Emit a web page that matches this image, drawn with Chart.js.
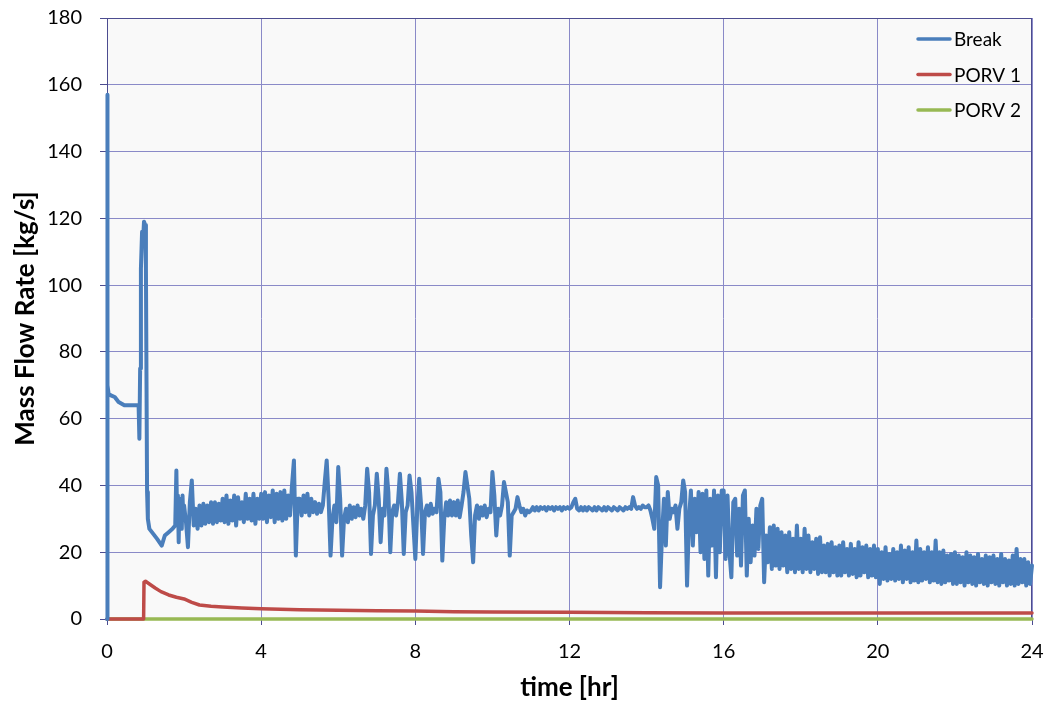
<!DOCTYPE html>
<html>
<head>
<meta charset="utf-8">
<script src="https://cdn.jsdelivr.net/npm/chart.js@4"></script>
<style>
  html, body { margin: 0; padding: 0; background: #ffffff; }
  #wrap { width: 1049px; height: 708px; }
</style>
</head>
<body>
<div id="wrap"><canvas id="flowChart" width="1049" height="708"></canvas></div>
<script>
// x ticks and y ticks
const timeTicks = [0, 4, 8, 12, 16, 20, 24];
const flowTicks = [0, 20, 40, 60, 80, 100, 120, 140, 160, 180];

// Break: start-up transient, read point by point
const breakEarlyTime = [0, 0.002, 0.006, 0.01, 0.014, 0.018, 0.024, 0.04, 0.1, 0.2, 0.3, 0.45, 0.6, 0.78, 0.82,
    0.84, 0.86, 0.88, 0.91, 0.93, 0.96, 0.99, 1.01, 1.03, 1.04, 1.06, 1.1, 1.2, 1.3, 1.42, 1.5, 1.6, 1.7, 1.77,
    1.8, 1.82, 1.84, 1.86, 1.88, 1.9, 1.92, 1.94, 1.96, 1.98];
const breakEarlyFlow = [0, 157, 140, 110, 90, 92, 70, 67.5, 67, 66.5, 65, 64, 64, 64, 64,
    54, 75, 105, 116, 112, 119, 118, 105, 60, 38, 30, 27, 25.5, 24, 22, 25, 26, 27, 28,
    44.5, 30, 37, 23, 36, 29, 35, 27, 37, 30];

// Break: from 2 hr on, one reading every 0.05 hr (one row = one hour)
const breakStart = 2.0;
const breakStep = 0.05;
const breakFlow = [
    34, 29, 21.5, 35, 41.5, 28, 33, 27, 34, 28, 34.5, 28.5, 34, 29, 35, 28.5, 35, 29, 34.5, 29.5,       // 2
    36, 29, 37, 28.5, 35.5, 29.5, 37, 28, 36.5, 30, 35, 29, 37.5, 30, 36, 29.5, 37.5, 28.5, 36, 30,     // 3
    37.5, 30, 38, 29, 37, 30.5, 38.5, 29, 37.5, 30, 38, 29.5, 38.5, 30, 37, 31, 40, 47.5, 19, 36,       // 4
    36, 31, 37, 32, 37.5, 31, 36, 32, 35, 31.5, 34.5, 32, 34, 41, 47.5, 36, 19, 30, 34, 29,             // 5
    45.5, 36, 19, 30, 33, 29, 34, 30, 33.5, 30.5, 34, 31, 33, 30, 34, 45, 38, 19.5, 31, 34,             // 6
    43.5, 36, 23, 33, 31, 45, 38, 20, 32, 34, 31, 35, 43.5, 35, 19.5, 32, 34, 43, 38, 28,               // 7
    18, 33, 42, 34, 19.5, 32, 34, 31, 34.5, 31.5, 33, 32, 42, 38, 17.5, 30, 35, 31, 35.5, 31,           // 8
    35, 31, 35.5, 30.5, 34, 38, 44, 40, 36, 25, 17, 31, 34, 30, 33.5, 31, 34, 30.5, 33, 32,             // 9
    44, 37, 25, 33, 31, 34, 41, 38, 35, 19, 31, 32, 33, 36.5, 34, 32, 33, 31, 32.5, 32,                 // 10
    32.5, 33.5, 32.5, 33.5, 32.5, 33.5, 33, 33.5, 32.5, 33.5, 33, 33.5, 32.5, 33.5, 33, 33.5, 32.5, 33.5, 33, 33.5, // 11
    33, 33.5, 35, 36, 33, 32.5, 33.5, 32.5, 33.5, 32.5, 33.5, 33, 32.5, 33.5, 32.5, 33.5, 33, 32.5, 33.5, 32.5, // 12
    33.5, 33, 32.5, 33.5, 33, 32.5, 33.5, 33, 32.5, 33.5, 33, 33.5, 33, 36.5, 34, 33, 33.5, 33, 34, 33.5,       // 13
    33.5, 34, 32.5, 30, 27, 42.5, 40, 9.5, 25, 36, 22, 38, 30, 33, 32, 34, 27, 33, 35, 41.5,             // 14
    38, 10, 30, 38.5, 22, 36, 26, 38, 20, 37.5, 18, 38.5, 13, 36, 22, 38.5, 12.5, 37, 20, 38.5,         // 15
    38.5, 18, 37, 20, 12.5, 35, 36, 19, 33, 16, 37, 38.5, 13, 30, 17, 28, 19, 33, 21, 34,               // 16
    36, 11, 25, 17, 27.5, 15, 28, 16, 27, 15, 26, 16, 25, 14, 26, 15, 24, 14, 28, 15,                   // 17
    24, 14, 27, 15, 25, 14, 23, 15, 24, 13.5, 24.5, 14, 22, 14, 22.5, 13, 23, 14, 21.5, 13,             // 18
    22, 13, 23, 14, 21, 13, 22.5, 13.5, 21, 12.5, 23, 13, 21.5, 14, 22, 12.5, 21, 13, 22, 12.5,         // 19
    21, 10.5, 20, 12, 21.5, 11.5, 19.5, 12, 21, 11.5, 20, 12, 22, 11, 20.5, 12, 21.5, 11, 20, 11.5,     // 20
    23.5, 11, 21, 11.5, 20, 12, 21.5, 11, 20, 11.5, 23.5, 11, 20, 10.5, 20.5, 11, 19, 11.5, 19.5, 10.5, // 21
    20, 10.5, 19, 11, 18.5, 10, 20, 11, 19, 10.5, 18.5, 10, 19.5, 11, 18, 10.5, 19, 10, 18.5, 11,       // 22
    19, 10.5, 18, 10, 19.5, 11, 18, 10, 17.5, 10.5, 19, 10, 21, 10.5, 18, 11, 18, 10, 17, 10.5,         // 23
    16                                                                                                    // 24
];

// PORV 1
const porv1Time = [0, 0.95, 0.96, 1.0, 1.1, 1.25, 1.4, 1.6, 1.8, 2.0, 2.2, 2.4, 2.7, 3.0, 3.5, 4.0,
    5.0, 6.0, 7.0, 8.0, 9.0, 10.0, 12.0, 14.0, 16.0, 20.0, 24.0];
const porv1Flow = [0, 0, 11, 11.3, 10.5, 9.3, 8.2, 7.2, 6.5, 6, 5, 4.2, 3.8, 3.6, 3.3, 3.1,
    2.8, 2.6, 2.5, 2.4, 2.2, 2.1, 2.0, 1.9, 1.8, 1.8, 1.8];

// PORV 2
const porv2Time = [0, 24];
const porv2Flow = [0, 0];

function toPoints(xs, ys) {
    return xs.map((x, i) => ({ x: x, y: ys[i] }));
}

const breakPoints = toPoints(breakEarlyTime, breakEarlyFlow);
breakFlow.forEach((v, i) => {
    breakPoints.push({ x: +(breakStart + i * breakStep).toFixed(2), y: v });
});

const FONT = "Lato, 'Open Sans', sans-serif";
const GRID = "#8a8ac8";
const FRAME = "#4c4c90";

const plotBackground = {
    id: "plotBackground",
    beforeDraw(chart) {
        const { ctx, chartArea: a } = chart;
        ctx.save();
        ctx.fillStyle = "#f9f9f9";
        ctx.fillRect(a.left, a.top, a.right - a.left, a.bottom - a.top);
        ctx.restore();
    },
    beforeDatasetsDraw(chart) {
        const { ctx, chartArea: a } = chart;
        ctx.save();
        ctx.strokeStyle = FRAME;
        ctx.lineWidth = 1;
        ctx.strokeRect(a.left + 0.5, a.top + 0.5, a.right - a.left - 1, a.bottom - a.top);
        ctx.restore();
    }
};

// legend drawn inside the plot, top right
const insideLegend = {
    id: "insideLegend",
    afterDatasetsDraw(chart) {
        const ctx = chart.ctx;
        ctx.save();
        ctx.font = "19px " + FONT;
        ctx.textBaseline = "middle";
        chart.data.datasets.forEach((ds, i) => {
            const y = 39 + i * 35.5;
            ctx.strokeStyle = ds.borderColor;
            ctx.lineWidth = 3.5;
            ctx.lineCap = "round";
            ctx.beginPath();
            ctx.moveTo(918, y);
            ctx.lineTo(950, y);
            ctx.stroke();
            ctx.fillStyle = "#000";
            ctx.fillText(ds.label, 954, y + 1);
        });
        ctx.restore();
    }
};

const lineStyle = {
    pointRadius: 0,
    tension: 0,
    clip: false,
    borderJoinStyle: "round",
    borderCapStyle: "round"
};

new Chart(document.getElementById("flowChart"), {
    type: "line",
    data: {
        datasets: [
            Object.assign({
                label: "Break",
                data: breakPoints,
                borderColor: "#4a7ebb",
                borderWidth: 4
            }, lineStyle),
            Object.assign({
                label: "PORV 1",
                data: toPoints(porv1Time, porv1Flow),
                borderColor: "#be4b48",
                borderWidth: 3.5
            }, lineStyle),
            Object.assign({
                label: "PORV 2",
                data: toPoints(porv2Time, porv2Flow),
                borderColor: "#98b954",
                borderWidth: 3.5
            }, lineStyle)
        ]
    },
    options: {
        responsive: false,
        animation: false,
        events: [],
        layout: { padding: { left: 0, top: 18, right: 17, bottom: 0 } },
        plugins: {
            legend: { display: false },
            tooltip: { enabled: false }
        },
        scales: {
            x: {
                type: "linear",
                min: 0,
                max: 24,
                afterBuildTicks(scale) {
                    scale.ticks = timeTicks.map(v => ({ value: v }));
                },
                afterFit(scale) {
                    scale.height = 89;
                    scale.paddingLeft = 0;
                    scale.paddingRight = 0;
                },
                grid: { color: GRID, lineWidth: 1, tickLength: 6, tickColor: FRAME },
                border: { color: FRAME, width: 1 },
                ticks: { color: "#000", font: { family: FONT, size: 20 }, padding: 15, maxRotation: 0 },
                title: {
                    display: true,
                    text: "time [hr]",
                    color: "#000",
                    font: { family: FONT, size: 26, weight: "bold" },
                    padding: { top: 0, bottom: 5 }
                }
            },
            y: {
                type: "linear",
                min: 0,
                max: 180,
                afterBuildTicks(scale) {
                    scale.ticks = flowTicks.map(v => ({ value: v }));
                },
                afterFit(scale) {
                    scale.width = 107;
                    scale.paddingTop = 0;
                    scale.paddingBottom = 0;
                },
                grid: { color: GRID, lineWidth: 1, tickLength: 7, tickColor: FRAME },
                border: { color: FRAME, width: 1 },
                ticks: { color: "#000", font: { family: FONT, size: 20 }, padding: 18 },
                title: {
                    display: true,
                    text: "Mass Flow Rate [kg/s]",
                    color: "#000",
                    font: { family: FONT, size: 26, weight: "bold" },
                    padding: { top: 10, bottom: 0 }
                }
            }
        }
    },
    plugins: [plotBackground, insideLegend]
});
</script>
</body>
</html>
